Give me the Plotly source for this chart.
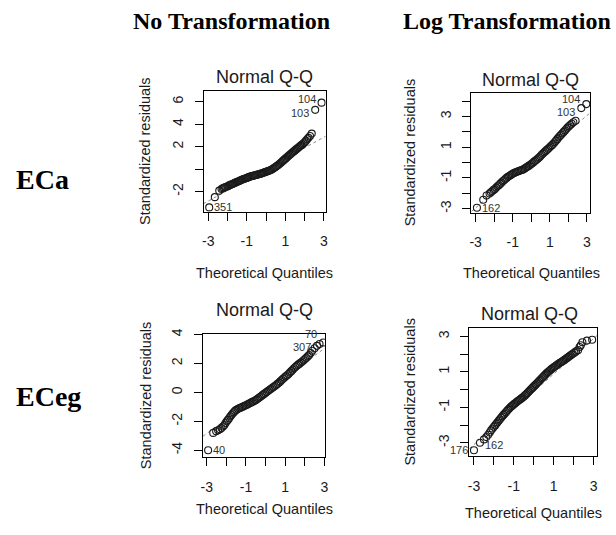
import plotly.graph_objects as go

W, H = 616, 535

# ---------------- data ----------------
col_headers = ["No Transformation", "Log Transformation"]
row_labels = ["ECa", "ECeg"]
panel_title = "Normal Q-Q"
x_title = "Theoretical Quantiles"
y_title = "Standardized residuals"

# Panel 1: ECa, no transformation
p1_pts = [(-2.95, -3.40), (-2.66, -2.49), (-2.43, -1.91), (-2.31, -1.76), (-2.25, -1.70), (-2.19, -1.66),
          (-2.13, -1.62), (-2.07, -1.56), (-2.01, -1.54), (-1.95, -1.48), (-1.89, -1.42), (-1.83, -1.38),
          (-1.77, -1.34), (-1.71, -1.30), (-1.65, -1.24), (-1.59, -1.20), (-1.53, -1.15), (-1.47, -1.10),
          (-1.41, -1.07), (-1.35, -1.02), (-1.29, -0.97), (-1.23, -0.93), (-1.17, -0.88), (-1.11, -0.85),
          (-1.05, -0.81), (-0.99, -0.78), (-0.93, -0.73), (-0.87, -0.69), (-0.81, -0.66), (-0.75, -0.62),
          (-0.69, -0.60), (-0.63, -0.57), (-0.57, -0.55), (-0.51, -0.52), (-0.45, -0.49), (-0.39, -0.46),
          (-0.33, -0.43), (-0.27, -0.40), (-0.21, -0.36), (-0.15, -0.33), (-0.09, -0.29), (-0.03, -0.26),
          (0.03, -0.22), (0.09, -0.18), (0.15, -0.15), (0.21, -0.10), (0.27, -0.05), (0.33, 0.01),
          (0.39, 0.07), (0.45, 0.14), (0.51, 0.21), (0.57, 0.29), (0.63, 0.37), (0.69, 0.45),
          (0.75, 0.54), (0.81, 0.63), (0.87, 0.73), (0.93, 0.82), (0.99, 0.91), (1.05, 1.00),
          (1.11, 1.09), (1.17, 1.18), (1.23, 1.27), (1.29, 1.36), (1.35, 1.45), (1.41, 1.54),
          (1.47, 1.62), (1.53, 1.71), (1.59, 1.80), (1.65, 1.88), (1.71, 1.97), (1.77, 2.05),
          (1.83, 2.13), (1.89, 2.21), (1.95, 2.30), (2.01, 2.40), (2.07, 2.52), (2.13, 2.65),
          (2.20, 2.78), (2.28, 2.95), (2.37, 3.16), (2.55, 5.27), (2.88, 5.91)]
p1_line = [(-3.26, -3.08), (3.09, 2.92)]
# (text, x, y, side, vertical shift in px)
p1_labels = [("351", -2.95, -3.40, "right", 0), ("103", 2.55, 5.27, "left", -3), ("104", 2.88, 5.91, "left", 4)]

# Panel 2: ECa, log transformation
p2_pts = [(-2.93, -2.94), (-2.59, -2.42), (-2.41, -2.14), (-2.25, -2.02), (-2.18, -1.93), (-2.10, -1.86),
          (-2.03, -1.78), (-1.96, -1.73), (-1.89, -1.63), (-1.82, -1.55), (-1.75, -1.48), (-1.68, -1.39),
          (-1.61, -1.31), (-1.54, -1.22), (-1.47, -1.15), (-1.40, -1.07), (-1.33, -1.00), (-1.26, -0.93),
          (-1.19, -0.88), (-1.12, -0.83), (-1.05, -0.77), (-0.98, -0.72), (-0.91, -0.67), (-0.84, -0.64),
          (-0.77, -0.60), (-0.70, -0.57), (-0.63, -0.54), (-0.56, -0.50), (-0.49, -0.48), (-0.42, -0.44),
          (-0.35, -0.39), (-0.28, -0.33), (-0.21, -0.28), (-0.14, -0.22), (-0.07, -0.16), (0.00, -0.10),
          (0.07, -0.03), (0.14, 0.04), (0.21, 0.11), (0.28, 0.18), (0.35, 0.25), (0.42, 0.33),
          (0.49, 0.41), (0.56, 0.50), (0.63, 0.58), (0.70, 0.66), (0.77, 0.74), (0.84, 0.82),
          (0.91, 0.90), (0.98, 0.97), (1.05, 1.05), (1.12, 1.13), (1.19, 1.22), (1.26, 1.32),
          (1.33, 1.42), (1.40, 1.52), (1.47, 1.62), (1.54, 1.72), (1.61, 1.81), (1.68, 1.90),
          (1.75, 1.99), (1.82, 2.08), (1.89, 2.18), (1.96, 2.27), (2.03, 2.36), (2.10, 2.44),
          (2.18, 2.52), (2.27, 2.62), (2.39, 2.72), (2.70, 3.54), (2.97, 3.80)]
p2_line = [(-3.23, -3.18), (3.18, 3.23)]
p2_labels = [("162", -2.93, -2.94, "right", 0), ("103", 2.70, 3.54, "left", -4), ("104", 2.97, 3.80, "left", 5)]

# Panel 3: ECeg, no transformation
p3_pts = [(-2.93, -4.00), (-2.67, -2.80), (-2.52, -2.68), (-2.42, -2.62), (-2.33, -2.55), (-2.25, -2.47),
          (-2.17, -2.36), (-2.10, -2.25), (-2.04, -2.12), (-1.98, -2.00), (-1.92, -1.90), (-1.86, -1.79),
          (-1.80, -1.67), (-1.74, -1.56), (-1.68, -1.46), (-1.62, -1.37), (-1.56, -1.28), (-1.49, -1.21),
          (-1.42, -1.15), (-1.35, -1.10), (-1.28, -1.06), (-1.21, -1.02), (-1.14, -0.98), (-1.07, -0.93),
          (-1.00, -0.89), (-0.93, -0.84), (-0.86, -0.79), (-0.79, -0.74), (-0.72, -0.69), (-0.65, -0.64),
          (-0.58, -0.59), (-0.51, -0.54), (-0.44, -0.48), (-0.37, -0.41), (-0.30, -0.34), (-0.23, -0.27),
          (-0.16, -0.19), (-0.09, -0.12), (-0.02, -0.05), (0.05, 0.02), (0.12, 0.09), (0.19, 0.16),
          (0.26, 0.23), (0.33, 0.30), (0.40, 0.37), (0.47, 0.44), (0.54, 0.51), (0.61, 0.59),
          (0.68, 0.67), (0.75, 0.76), (0.82, 0.85), (0.89, 0.94), (0.96, 1.03), (1.03, 1.11),
          (1.10, 1.19), (1.17, 1.27), (1.24, 1.37), (1.31, 1.47), (1.38, 1.57), (1.45, 1.67),
          (1.52, 1.76), (1.59, 1.84), (1.66, 1.92), (1.73, 1.99), (1.80, 2.06), (1.87, 2.14),
          (1.94, 2.22), (2.01, 2.31), (2.08, 2.40), (2.15, 2.49), (2.22, 2.58), (2.30, 2.72),
          (2.38, 2.88), (2.50, 3.05), (2.62, 3.22), (2.75, 3.35), (2.94, 3.45)]
p3_line = [(-3.19, -3.03), (3.02, 3.06)]
p3_labels = [("40", -2.93, -4.00, "right", 0), ("307", 2.62, 3.22, "left", -1), ("70", 2.94, 3.45, "left", 9)]

# Panel 4: ECeg, log transformation
p4_pts = [(-3.00, -3.42), (-2.70, -3.00), (-2.50, -2.81), (-2.38, -2.68), (-2.29, -2.55), (-2.21, -2.42),
          (-2.14, -2.30), (-2.07, -2.20), (-2.00, -2.10), (-1.94, -2.02), (-1.88, -1.93), (-1.82, -1.85),
          (-1.76, -1.76), (-1.70, -1.68), (-1.64, -1.59), (-1.58, -1.51), (-1.52, -1.43), (-1.46, -1.36),
          (-1.40, -1.28), (-1.34, -1.20), (-1.28, -1.13), (-1.22, -1.06), (-1.16, -0.99), (-1.10, -0.93),
          (-1.04, -0.87), (-0.98, -0.81), (-0.92, -0.76), (-0.86, -0.70), (-0.80, -0.65), (-0.74, -0.60),
          (-0.68, -0.55), (-0.62, -0.50), (-0.56, -0.45), (-0.50, -0.39), (-0.44, -0.33), (-0.38, -0.27),
          (-0.32, -0.20), (-0.26, -0.13), (-0.20, -0.06), (-0.14, 0.01), (-0.08, 0.08), (-0.02, 0.15),
          (0.04, 0.22), (0.10, 0.28), (0.16, 0.35), (0.22, 0.42), (0.28, 0.49), (0.34, 0.56),
          (0.40, 0.63), (0.46, 0.70), (0.52, 0.77), (0.58, 0.84), (0.64, 0.91), (0.70, 0.97),
          (0.76, 1.03), (0.82, 1.09), (0.88, 1.15), (0.94, 1.20), (1.00, 1.25), (1.06, 1.30),
          (1.12, 1.35), (1.18, 1.40), (1.24, 1.45), (1.30, 1.50), (1.36, 1.54), (1.42, 1.58),
          (1.48, 1.62), (1.54, 1.67), (1.60, 1.72), (1.66, 1.77), (1.72, 1.82), (1.78, 1.87),
          (1.84, 1.92), (1.90, 1.97), (1.96, 2.02), (2.04, 2.08), (2.12, 2.15), (2.22, 2.22),
          (2.30, 2.40), (2.36, 2.50), (2.44, 2.67), (2.67, 2.76), (2.93, 2.81)]
p4_line = [(-3.23, -3.33), (3.18, 3.05)]
p4_labels = [("176", -3.00, -3.42, "left", 0), ("162", -2.70, -3.10, "right", 0)]

# tick values / labels per panel
p1_yticks = [-2, 0, 2, 4, 6];            p1_ytext = ["-2", "", "2", "4", "6"]
p2_yticks = [-3, -2, -1, 0, 1, 2, 3, 4]; p2_ytext = ["-3", "", "-1", "", "1", "", "3", ""]
p3_yticks = [-4, -2, 0, 2, 4];           p3_ytext = ["-4", "-2", "0", "2", "4"]
p4_yticks = [-3, -2, -1, 0, 1, 2, 3];    p4_ytext = ["-3", "", "-1", "", "1", "", "3"]
x_ticks = [-3, -2, -1, 0, 1, 2, 3];      x_text = ["-3", "", "-1", "", "1", "", "3"]

# ---------------- layout geometry (pixels) ----------------
panels = [
    dict(pts=p1_pts, line=p1_line, labels=p1_labels, yt=p1_yticks, ytt=p1_ytext,
         box=(204, 327, 86, 208), xr=[-3.22, 3.10], yr=[-3.78, 6.94],
         title_xy=(265, 72), xt_xy=(265, 270), yt_xy=(145, 147)),
    dict(pts=p2_pts, line=p2_line, labels=p2_labels, yt=p2_yticks, ytt=p2_ytext,
         box=(474, 594, 88, 209), xr=[-3.23, 3.18], yr=[-3.26, 4.52],
         title_xy=(534, 75), xt_xy=(535, 270), yt_xy=(412, 148)),
    dict(pts=p3_pts, line=p3_line, labels=p3_labels, yt=p3_yticks, ytt=p3_ytext,
         box=(203, 326, 332, 456), xr=[-3.19, 3.02], yr=[-4.46, 4.02],
         title_xy=(265, 307), xt_xy=(265, 509), yt_xy=(145, 394)),
    dict(pts=p4_pts, line=p4_line, labels=p4_labels, yt=p4_yticks, ytt=p4_ytext,
         box=(472, 601, 326, 455), xr=[-3.23, 3.18], yr=[-3.74, 3.45],
         title_xy=(533, 311), xt_xy=(537, 513), yt_xy=(412, 390)),
]

FONT = "Liberation Sans, Arial, sans-serif"
SERIF = "Liberation Serif, Times New Roman, serif"

def fx(p):
    return p / W

def fy(p):
    return 1 - p / H

fig = go.Figure()
annotations = []
layout = {}

for i, pn in enumerate(panels, start=1):
    sfx = "" if i == 1 else str(i)
    xa, ya = "x" + sfx, "y" + sfx
    xs = [p[0] for p in pn["pts"]]
    ys = [p[1] for p in pn["pts"]]
    lx = [p[0] for p in pn["line"]]
    ly = [p[1] for p in pn["line"]]
    fig.add_trace(go.Scatter(x=lx, y=ly, mode="lines", xaxis=xa, yaxis=ya,
                             line=dict(color="#8a8a8a", width=1, dash="dot"),
                             showlegend=False, hoverinfo="skip"))
    fig.add_trace(go.Scatter(x=xs, y=ys, mode="markers", xaxis=xa, yaxis=ya,
                             marker=dict(symbol="circle-open", size=7, color="#1a1a1a",
                                         line=dict(width=1.1, color="#1a1a1a")),
                             showlegend=False))
    x0, x1, y0, y1 = pn["box"]
    common = dict(showgrid=False, zeroline=False, showline=True, linecolor="black",
                  linewidth=1, mirror=True, ticks="outside", ticklen=8, tickwidth=1,
                  tickcolor="black", tickfont=dict(family=FONT, size=14, color="#1a1a1a"))
    layout["xaxis" + sfx] = dict(domain=[fx(x0), fx(x1)], range=pn["xr"], anchor=ya,
                                 tickmode="array", tickvals=x_ticks, ticktext=x_text,
                                 ticklabelstandoff=9, **common)
    layout["yaxis" + sfx] = dict(domain=[fy(y1), fy(y0)], range=pn["yr"], anchor=xa,
                                 tickmode="array", tickvals=pn["yt"], ticktext=pn["ytt"],
                                 tickangle=-90, ticklabelstandoff=6, **common)
    tx, ty = pn["title_xy"]
    annotations.append(dict(text=panel_title, x=fx(tx), y=fy(ty), xref="paper", yref="paper",
                            xanchor="center", yanchor="middle", showarrow=False,
                            font=dict(family=FONT, size=18, color="#1a1a1a")))
    tx, ty = pn["xt_xy"]
    annotations.append(dict(text=x_title, x=fx(tx), y=fy(ty), xref="paper", yref="paper",
                            xanchor="center", yanchor="middle", showarrow=False,
                            font=dict(family=FONT, size=14.5, color="#1a1a1a")))
    tx, ty = pn["yt_xy"]
    annotations.append(dict(text=y_title, x=fx(tx), y=fy(ty), xref="paper", yref="paper",
                            xanchor="center", yanchor="middle", showarrow=False, textangle=-90,
                            font=dict(family=FONT, size=14.5, color="#1a1a1a")))
    for lab, lxv, lyv, side, ysh in pn["labels"]:
        annotations.append(dict(text=lab, x=lxv, y=lyv, xref=xa, yref=ya,
                                xanchor="left" if side == "right" else "right",
                                xshift=3 if side == "right" else -4, yshift=ysh,
                                yanchor="middle", showarrow=False,
                                font=dict(family=FONT, size=11, color="#333")))

# column headers and row labels
annotations.append(dict(text="<b>" + col_headers[0] + "</b>", x=fx(232), y=fy(15), xref="paper",
                        yref="paper", xanchor="center", yanchor="middle", showarrow=False,
                        font=dict(family=SERIF, size=24, color="black")))
annotations.append(dict(text="<b>" + col_headers[1] + "</b>", x=fx(510), y=fy(15), xref="paper",
                        yref="paper", xanchor="center", yanchor="middle", showarrow=False,
                        font=dict(family=SERIF, size=24, color="black")))
annotations.append(dict(text="<b>" + row_labels[0] + "</b>", x=fx(12), y=fy(175), xref="paper",
                        yref="paper", xanchor="left", yanchor="middle", showarrow=False,
                        font=dict(family=SERIF, size=28, color="black")))
annotations.append(dict(text="<b>" + row_labels[1] + "</b>", x=fx(12), y=fy(395), xref="paper",
                        yref="paper", xanchor="left", yanchor="middle", showarrow=False,
                        font=dict(family=SERIF, size=28, color="black")))

fig.update_layout(width=W, height=H, margin=dict(l=0, r=0, t=0, b=0),
                  paper_bgcolor="white", plot_bgcolor="white",
                  annotations=annotations, **layout)

fig.write_html("out.html")
